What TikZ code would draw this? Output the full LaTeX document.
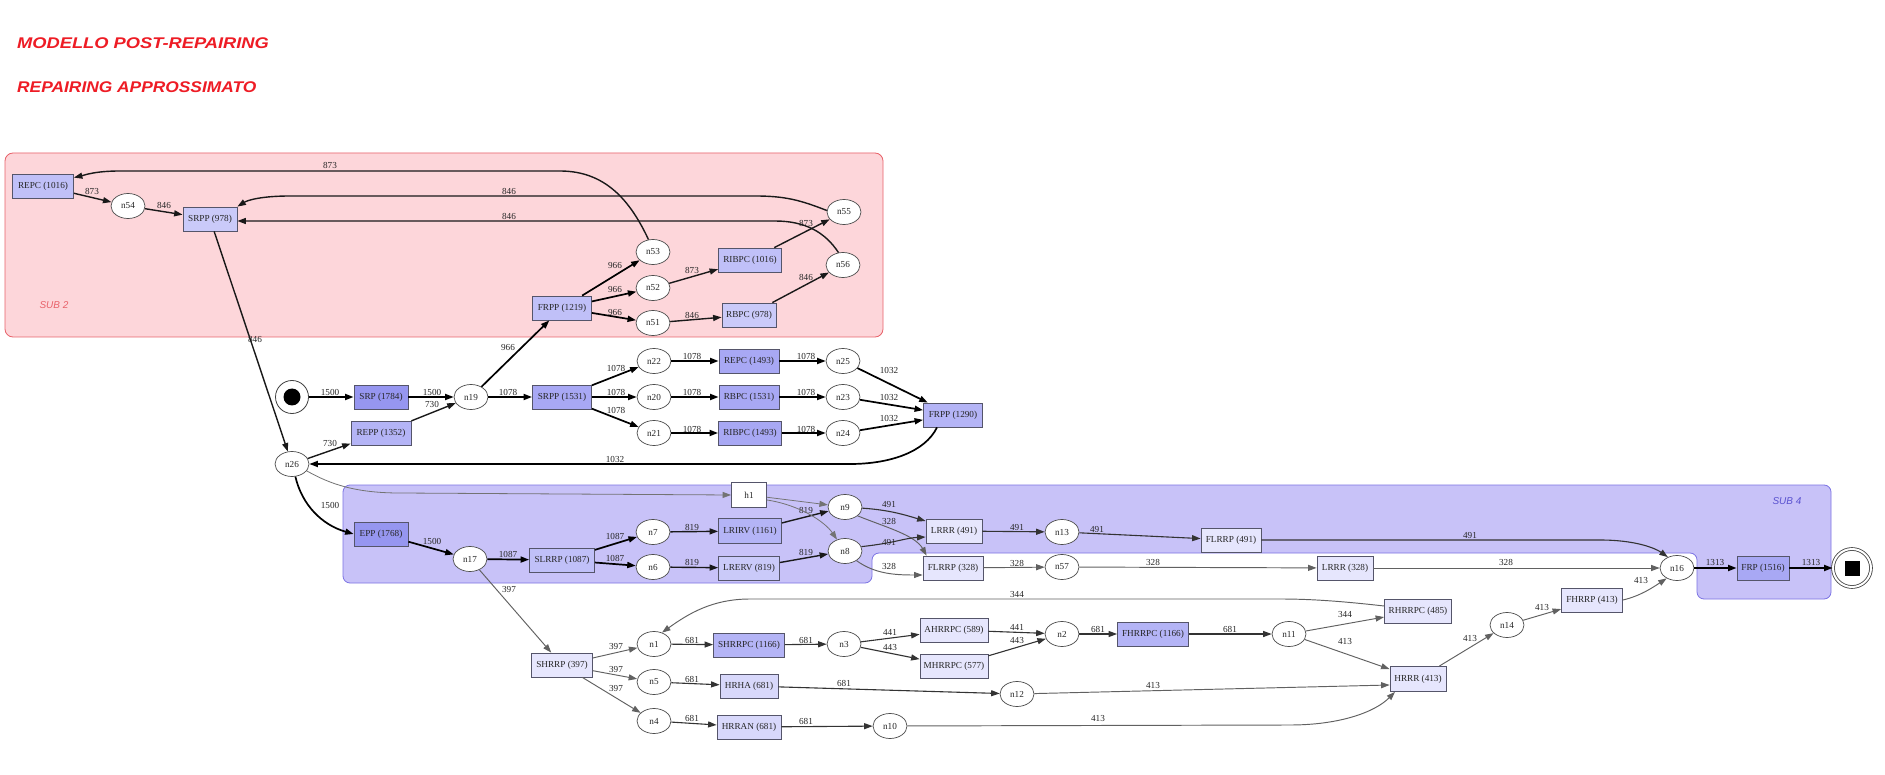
\documentclass[tikz,border=0pt]{standalone}
\usepackage{fontspec}
\usetikzlibrary{shapes.geometric,arrows.meta}
\newfontfamily\nodefnt{Liberation Serif}
\newfontfamily\titlefnt{Liberation Sans}
\newcommand\lblfont{\nodefnt\fontsize{9.2}{10}\selectfont}
\definecolor{subtwofill}{HTML}{FDD6DA}
\definecolor{subtwoline}{HTML}{E8626A}
\definecolor{subfourfill}{HTML}{C8C2F8}
\definecolor{subfourline}{HTML}{7C74E4}
\definecolor{subfourtext}{HTML}{5A52D0}
\definecolor{titlered}{HTML}{EE1C25}
\definecolor{bordc}{HTML}{55556A}
\definecolor{fa}{HTML}{9696F0}
\definecolor{fb}{HTML}{A8A8F4}
\definecolor{fc}{HTML}{B4B4F6}
\definecolor{fd}{HTML}{C0C0F8}
\definecolor{fe}{HTML}{CACAF9}
\definecolor{ff}{HTML}{D8D8FB}
\definecolor{fg}{HTML}{E6E6FD}
\begin{document}
\begin{tikzpicture}[x=1pt,y=-1pt,
  >={Triangle[length=8.5pt,width=6pt]},
  box/.style={draw=bordc, line width=0.8pt, minimum height=24pt, inner sep=0pt, font=\lblfont, text=black!85},
  ell/.style={ellipse, draw=black!70, line width=0.7pt, fill=white, minimum width=34pt, minimum height=25pt, inner sep=0pt, font=\lblfont, text=black!85},
  lbl/.style={font=\lblfont, text=black!85, inner sep=0.5pt},
  ea/.style={->, line width=1.7pt, draw=black},
  eb/.style={->, line width=1.4pt, draw=black!90},
  ec/.style={->, line width=1.1pt, draw=black!80},
  ed/.style={->, line width=0.95pt, draw=black!62},
  eh/.style={->, line width=0.8pt, draw=black!55},
  subl/.style={font=\titlefnt\itshape\fontsize{10}{12}\selectfont},
  ttl/.style={anchor=base west, inner sep=0pt, text=titlered, font=\titlefnt\bfseries\itshape\fontsize{15.5}{18}\selectfont}
]
\useasboundingbox (0,0) rectangle (1885,775);
\fill[white] (0,0) rectangle (1885,775);

% titles
\node[ttl] (titleone) at (17,49) {\scalebox{1.18}[1]{MODELLO POST-REPAIRING}};
\node[ttl] (titletwo) at (17,93) {\scalebox{1.12}[1]{REPAIRING APPROSSIMATO}};

% clusters
\draw[rounded corners=8pt, fill=subtwofill, draw=subtwoline, line width=0.8pt] (5,153) rectangle (883,337);
\node[subl, text=subtwoline] (subtwolbl) at (54,305) {SUB 2};
\draw[rounded corners=7pt, fill=subfourfill, draw=subfourline, line width=0.8pt]
  (343,485) -- (1831,485) -- (1831,599) -- (1697,599) -- (1697,553) -- (872,553) -- (872,583) -- (343,583) -- cycle;
\node[subl, text=subfourtext] (subfourlbl) at (1787,501) {SUB 4};

% SUB 2 nodes
\node[box, fill=fd, minimum width=61pt] (REPCa) at (43,186) {REPC (1016)};
\node[ell] (n54) at (128,206) {n54};
\node[box, fill=fe, minimum width=54pt] (SRPPa) at (210,219) {SRPP (978)};
\node[ell] (n53) at (653,252) {n53};
\node[ell] (n52) at (653,288) {n52};
\node[ell] (n51) at (653,323) {n51};
\node[box, fill=fd, minimum width=59pt] (FRPPa) at (562,308) {FRPP (1219)};
\node[box, fill=fd, minimum width=63pt] (RIBPCa) at (750,260) {RIBPC (1016)};
\node[box, fill=fe, minimum width=54pt] (RBPCa) at (749,315) {RBPC (978)};
\node[ell] (n55) at (844,212) {n55};
\node[ell] (n56) at (843,265) {n56};

% middle nodes
\node[circle, draw=black!75, line width=0.8pt, fill=white, minimum size=33pt, inner sep=0pt] (start) at (292,397) {};
\fill[black] (start.center) circle[radius=8.5pt];
\node[box, fill=fa, minimum width=54pt] (SRP) at (381,397) {SRP (1784)};
\node[ell] (n19) at (471,397) {n19};
\node[box, fill=fc, minimum width=60pt] (REPP) at (381,433) {REPP (1352)};
\node[box, fill=fb, minimum width=59pt] (SRPPb) at (562,397) {SRPP (1531)};
\node[ell] (n22) at (654,361) {n22};
\node[ell] (n20) at (654,397) {n20};
\node[ell] (n21) at (654,433) {n21};
\node[box, fill=fb, minimum width=60pt] (REPCb) at (749,361) {REPC (1493)};
\node[box, fill=fb, minimum width=60pt] (RBPCb) at (749,397) {RBPC (1531)};
\node[box, fill=fb, minimum width=63pt] (RIBPCb) at (750,433) {RIBPC (1493)};
\node[ell] (n25) at (843,361) {n25};
\node[ell] (n23) at (843,397) {n23};
\node[ell] (n24) at (843,433) {n24};
\node[box, fill=fc, minimum width=59pt] (FRPPb) at (953,415) {FRPP (1290)};
\node[ell] (n26) at (292,464) {n26};

% SUB 4 nodes
\node[box, fill=fa, minimum width=54pt] (EPP) at (381,534) {EPP (1768)};
\node[ell] (n17) at (470,559) {n17};
\node[box, fill=fd, minimum width=65pt] (SLRRP) at (562,560) {SLRRP (1087)};
\node[ell] (n7) at (653,532) {n7};
\node[ell] (n6) at (653,567) {n6};
\node[box, fill=white, minimum width=35pt, minimum height=25pt] (h1) at (749,495) {h1};
\node[box, fill=fc, minimum width=63pt, minimum height=25pt] (LRIRV) at (750,531) {LRIRV (1161)};
\node[box, fill=fe, minimum width=61pt] (LRERV) at (749,568) {LRERV (819)};
\node[ell] (n9) at (845,507) {n9};
\node[ell] (n8) at (845,551) {n8};
\node[box, fill=fg, minimum width=56pt] (LRRRa) at (954,531) {LRRR (491)};
\node[box, fill=fg, minimum width=60pt] (FLRRPa) at (953,568) {FLRRP (328)};
\node[ell] (n13) at (1062,532) {n13};
\node[ell] (n57) at (1062,567) {n57};
\node[box, fill=fg, minimum width=60pt] (FLRRPb) at (1231,540) {FLRRP (491)};
\node[box, fill=fg, minimum width=56pt] (LRRRb) at (1345,568) {LRRR (328)};
\node[ell] (n16) at (1677,568) {n16};
\node[box, fill=fb, minimum width=52pt] (FRP) at (1763,568) {FRP (1516)};
\node[circle, draw=black!75, line width=0.8pt, double, double distance=2pt, fill=white, minimum size=38pt, inner sep=0pt] (endn) at (1852,568) {};
\fill[black] ([shift={(-7.5pt,-7.5pt)}]endn.center) rectangle ++(15pt,15pt);

% bottom nodes
\node[box, fill=fg, minimum width=61pt] (SHRRP) at (562,665) {SHRRP (397)};
\node[ell] (n1) at (654,644) {n1};
\node[ell] (n5) at (654,682) {n5};
\node[ell] (n4) at (654,721) {n4};
\node[box, fill=fc, minimum width=71pt] (SHRRPC) at (749,645) {SHRRPC (1166)};
\node[ell] (n3) at (844,644) {n3};
\node[box, fill=ff, minimum width=58pt] (HRHA) at (749,686) {HRHA (681)};
\node[box, fill=ff, minimum width=64pt] (HRRAN) at (749,727) {HRRAN (681)};
\node[ell] (n10) at (890,726) {n10};
\node[box, fill=fg, minimum width=68pt] (AHRRPC) at (954,630) {AHRRPC (589)};
\node[box, fill=fg, minimum width=68pt] (MHRRPC) at (954,666) {MHRRPC (577)};
\node[ell] (n2) at (1062,634) {n2};
\node[box, fill=fc, minimum width=71pt] (FHRRPC) at (1153,634) {FHRRPC (1166)};
\node[ell] (n11) at (1289,634) {n11};
\node[box, fill=fg, minimum width=67pt] (RHRRPC) at (1418,611) {RHRRPC (485)};
\node[box, fill=fg, minimum width=56pt, minimum height=25pt] (HRRR) at (1418,679) {HRRR (413)};
\node[ell] (n12) at (1017,694) {n12};
\node[ell] (n14) at (1507,625) {n14};
\node[box, fill=fg, minimum width=61pt] (FHRRP) at (1592,600) {FHRRP (413)};

% SUB 2 edges
\draw[eb] (REPCa) -- (n54) node[lbl] at (92,191) {873};
\draw[eb] (n54) -- (SRPPa) node[lbl] at (164,205) {846};
\draw[eb] (n53.110) .. controls (630,200) and (605,171) .. (560,171) -- (120,171) .. controls (95,171) and (85,175) .. ([yshift=-4pt]REPCa.north east) node[lbl] at (330,165) {873};
\draw[eb] (n55.175) .. controls (800,200) and (785,196) .. (755,196) -- (290,196) .. controls (262,196) and (248,200) .. (SRPPa.north east) node[lbl] at (509,191) {846};
\draw[eb] (n56.110) .. controls (825,232) and (805,221) .. (775,221) -- ([yshift=-2pt]SRPPa.east) node[lbl] at (509,216) {846};
\draw[ea] (FRPPa) -- (n53) node[lbl] at (615,266) {966};
\draw[ea] (FRPPa) -- (n52) node[lbl] at (615,290) {966};
\draw[ea] (FRPPa) -- (n51) node[lbl] at (615,313) {966};
\draw[eb] (n52) -- (RIBPCa) node[lbl] at (692,270) {873};
\draw[eb] (n51) -- (RBPCa) node[lbl] at (692,315) {846};
\draw[eb] (RIBPCa) -- (n55) node[lbl] at (806,223) {873};
\draw[eb] (RBPCa) -- (n56) node[lbl] at (806,277) {846};
\draw[eb] (SRPPa) -- (n26) node[lbl] at (255,339) {846};

% middle edges
\draw[ea] (start) -- (SRP) node[lbl] at (330,392) {1500};
\draw[ea] (SRP) -- (n19) node[lbl] at (432,392) {1500};
\draw[eb] (REPP) -- (n19) node[lbl] at (432,404) {730};
\draw[eb] (n26) -- (REPP) node[lbl] at (330,443) {730};
\draw[ea] (n19) -- (FRPPa) node[lbl] at (508,347) {966};
\draw[ea] (n19) -- (SRPPb) node[lbl] at (508,392) {1078};
\draw[ea] (SRPPb) -- (n22) node[lbl] at (616,368) {1078};
\draw[ea] (SRPPb) -- (n20) node[lbl] at (616,392) {1078};
\draw[ea] (SRPPb) -- (n21) node[lbl] at (616,410) {1078};
\draw[ea] (n22) -- (REPCb) node[lbl] at (692,356) {1078};
\draw[ea] (n20) -- (RBPCb) node[lbl] at (692,392) {1078};
\draw[ea] (n21) -- (RIBPCb) node[lbl] at (692,429) {1078};
\draw[ea] (REPCb) -- (n25) node[lbl] at (806,356) {1078};
\draw[ea] (RBPCb) -- (n23) node[lbl] at (806,392) {1078};
\draw[ea] (RIBPCb) -- (n24) node[lbl] at (806,429) {1078};
\draw[ea] (n25) -- (FRPPb) node[lbl] at (889,370) {1032};
\draw[ea] (n23) -- (FRPPb) node[lbl] at (889,397) {1032};
\draw[ea] (n24) -- (FRPPb) node[lbl] at (889,418) {1032};
\draw[ea] ([xshift=-16pt]FRPPb.south) .. controls (925,452) and (890,464) .. (850,464) -- (n26) node[lbl] at (615,459) {1032};
\draw[ea] (n26.285) .. controls (302,505) and (322,525) .. (EPP.west) node[lbl] at (330,505) {1500};
\draw[eh] (n26.-25) .. controls (330,484) and (355,493) .. (400,493) -- (h1.west);

% SUB 4 edges
\draw[ea] (EPP) -- (n17) node[lbl] at (432,541) {1500};
\draw[ea] (n17) -- (SLRRP) node[lbl] at (508,554) {1087};
\draw[ea] (SLRRP) -- (n7) node[lbl] at (615,536) {1087};
\draw[ea] (SLRRP) -- (n6) node[lbl] at (615,558) {1087};
\draw[eb] (n7) -- (LRIRV) node[lbl] at (692,527) {819};
\draw[eb] (n6) -- (LRERV) node[lbl] at (692,562) {819};
\draw[eb] (LRIRV) -- (n9) node[lbl] at (806,510) {819};
\draw[eb] (LRERV) -- (n8) node[lbl] at (806,552) {819};
\draw[eh] (h1) -- (n9);
\draw[eh] ([yshift=-5pt]h1.east) .. controls (800,505) and (825,522) .. (n8.125);
\draw[ec] (n9) .. controls (890,510) and (905,515) .. ([yshift=10pt]LRRRa.west) node[lbl] at (889,504) {491};
\draw[ed] (n9.-35) .. controls (885,527) and (915,535) .. ([xshift=4pt]FLRRPa.north west) node[lbl] at (889,521) {328};
\draw[ec] (n8.15) .. controls (895,543) and (905,538) .. ([yshift=-6pt]LRRRa.west) node[lbl] at (889,542) {491};
\draw[ed] (n8.-40) .. controls (875,574) and (895,575) .. ([yshift=-7pt]FLRRPa.west) node[lbl] at (889,566) {328};
\draw[ec] (LRRRa) -- (n13) node[lbl] at (1017,527) {491};
\draw[ed] (FLRRPa) -- (n57) node[lbl] at (1017,563) {328};
\draw[ec] (n13) -- (FLRRPb) node[lbl] at (1097,529) {491};
\draw[ed] (n57) -- (LRRRb) node[lbl] at (1153,562) {328};
\draw[ec] (FLRRPb.east) -- (1600,540) .. controls (1635,540) and (1655,548) .. (n16.130) node[lbl] at (1470,535) {491};
\draw[ed] (LRRRb) -- (n16) node[lbl] at (1506,562) {328};
\draw[ea] (n16) -- (FRP) node[lbl] at (1715,562) {1313};
\draw[ea] (FRP) -- (endn) node[lbl] at (1811,562) {1313};
\draw[ed] (n17) -- (SHRRP) node[lbl] at (509,589) {397};

% bottom edges
\draw[ed] (SHRRP) -- (n1) node[lbl] at (616,646) {397};
\draw[ed] (SHRRP) -- (n5) node[lbl] at (616,669) {397};
\draw[ed] (SHRRP) -- (n4) node[lbl] at (616,688) {397};
\draw[ec] (n1) -- (SHRRPC) node[lbl] at (692,640) {681};
\draw[ec] (SHRRPC) -- (n3) node[lbl] at (806,640) {681};
\draw[ec] (n3) -- (AHRRPC) node[lbl] at (890,632) {441};
\draw[ec] (n3) -- (MHRRPC) node[lbl] at (890,647) {443};
\draw[ec] (AHRRPC) -- (n2) node[lbl] at (1017,627) {441};
\draw[ec] (MHRRPC) -- (n2) node[lbl] at (1017,640) {443};
\draw[ec] (n2) -- (FHRRPC) node[lbl] at (1098,629) {681};
\draw[ec] (FHRRPC) -- (n11) node[lbl] at (1230,629) {681};
\draw[ed] (n11) -- (RHRRPC) node[lbl] at (1345,614) {344};
\draw[ed] (n11) -- (HRRR) node[lbl] at (1345,641) {413};
\draw[ed] ([yshift=5pt]RHRRPC.west) .. controls (1340,601) and (1310,599) .. (1280,599) -- (750,599) .. controls (712,599) and (688,614) .. (n1.55) node[lbl] at (1017,594) {344};
\draw[ec] (n5) -- (HRHA) node[lbl] at (692,679) {681};
\draw[ec] (HRHA) -- (n12) node[lbl] at (844,683) {681};
\draw[ed] (n12) -- ([yshift=-6pt]HRRR.west) node[lbl] at (1153,685) {413};
\draw[ec] (n4) -- (HRRAN) node[lbl] at (692,718) {681};
\draw[ec] (HRRAN) -- (n10) node[lbl] at (806,721) {681};
\draw[ed] (n10) -- (1290,725) .. controls (1340,725) and (1375,712) .. ([xshift=-23pt]HRRR.south) node[lbl] at (1098,718) {413};
\draw[ed] (HRRR) -- (n14) node[lbl] at (1470,638) {413};
\draw[ed] (n14) -- (FHRRP) node[lbl] at (1542,607) {413};
\draw[ed] (FHRRP.east) .. controls (1640,596) and (1652,588) .. (n16.225) node[lbl] at (1641,580) {413};
\end{tikzpicture}
\end{document}
